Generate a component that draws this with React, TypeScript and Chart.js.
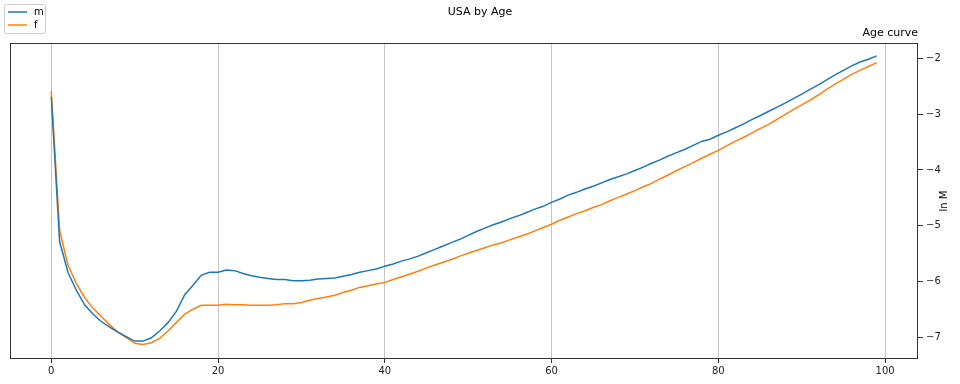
import React, { useEffect, useRef } from "react";
import { Chart, registerables } from "chart.js";

Chart.register(...registerables);

const ages: number[] = Array.from({ length: 100 }, (_, i) => i);

const maleLnM: number[] = [
  -2.69, -5.28, -5.83, -6.15, -6.41, -6.575, -6.71, -6.81, -6.9, -6.98,
  -7.06, -7.06, -7.0, -6.88, -6.73, -6.53, -6.23, -6.06, -5.88, -5.83,
  -5.83, -5.79, -5.8, -5.85, -5.89, -5.92, -5.94, -5.96, -5.96, -5.98,
  -5.98, -5.97, -5.95, -5.94, -5.93, -5.9, -5.87, -5.83, -5.8, -5.77,
  -5.72, -5.68, -5.63, -5.59, -5.54, -5.48, -5.42, -5.36, -5.3, -5.24,
  -5.17, -5.1, -5.04, -4.98, -4.93, -4.87, -4.82, -4.76, -4.7, -4.65,
  -4.58, -4.52, -4.45, -4.4, -4.34, -4.29, -4.23, -4.17, -4.12, -4.07,
  -4.01, -3.95, -3.88, -3.82, -3.75, -3.69, -3.63, -3.56, -3.49, -3.45,
  -3.38, -3.32, -3.25, -3.18, -3.1, -3.03, -2.955, -2.88, -2.805, -2.725,
  -2.645, -2.56, -2.48, -2.39, -2.3, -2.22, -2.14, -2.07, -2.02, -1.96,
];

const femaleLnM: number[] = [
  -2.59, -5.08, -5.7, -6.03, -6.28, -6.47, -6.62, -6.77, -6.9, -7.0,
  -7.1, -7.12, -7.09, -7.01, -6.88, -6.73, -6.575, -6.49, -6.42, -6.42,
  -6.42, -6.4, -6.41, -6.41, -6.42, -6.42, -6.42, -6.41, -6.39, -6.39,
  -6.37, -6.33, -6.3, -6.27, -6.24, -6.19, -6.15, -6.1, -6.07, -6.04,
  -6.01, -5.96, -5.91, -5.86, -5.81, -5.75, -5.7, -5.65, -5.6, -5.54,
  -5.49, -5.44, -5.39, -5.34, -5.3, -5.25, -5.2, -5.15, -5.09, -5.03,
  -4.97, -4.9, -4.84, -4.78, -4.73, -4.67, -4.62, -4.55, -4.49, -4.43,
  -4.37, -4.3, -4.24, -4.16, -4.09, -4.01, -3.94, -3.87, -3.79, -3.72,
  -3.65, -3.57, -3.49, -3.42, -3.34, -3.26, -3.19, -3.1, -3.01, -2.92,
  -2.835, -2.75, -2.66, -2.56, -2.465, -2.38, -2.29, -2.22, -2.15, -2.08,
];

const xTicks: number[] = [0, 20, 40, 60, 80, 100];
const yTicks: number[] = [-7, -6, -5, -4, -3, -2];

const seriesNames: string[] = ["m", "f"];
const seriesColors: string[] = ["#1f77b4", "#ff7f0e"];

const chartTitle = "USA by Age";
const axesTitle = "Age curve";
const yAxisTitle = "ln M";

const FONT = "'DejaVu Sans', sans-serif";

const decorPlugin = {
  id: "decor",
  afterDraw(chart: any) {
    const { ctx, chartArea } = chart;
    const { left, right, top, bottom } = chartArea;
    ctx.save();
    // frame
    ctx.strokeStyle = "#333";
    ctx.lineWidth = 1;
    ctx.strokeRect(left + 0.5, top + 0.5, right - left - 1, bottom - top - 1);

    ctx.fillStyle = "#000";
    ctx.textBaseline = "middle";
    // suptitle
    ctx.font = `11px ${FONT}`;
    ctx.textAlign = "center";
    ctx.fillText(chartTitle, 480, 12);
    // axes title
    ctx.font = `11px ${FONT}`;
    ctx.textAlign = "right";
    ctx.fillText(axesTitle, right, 33);
    // y title rotated
    ctx.save();
    ctx.translate(944, (top + bottom) / 2);
    ctx.rotate(-Math.PI / 2);
    ctx.textAlign = "center";
    ctx.font = `10px ${FONT}`;
    ctx.fillText(yAxisTitle, 0, 0);
    ctx.restore();

    // legend box
    const bx = 4.5, by = 4.5, bw = 41, bh = 29;
    ctx.beginPath();
    const r = 2;
    ctx.moveTo(bx + r, by);
    ctx.lineTo(bx + bw - r, by);
    ctx.quadraticCurveTo(bx + bw, by, bx + bw, by + r);
    ctx.lineTo(bx + bw, by + bh - r);
    ctx.quadraticCurveTo(bx + bw, by + bh, bx + bw - r, by + bh);
    ctx.lineTo(bx + r, by + bh);
    ctx.quadraticCurveTo(bx, by + bh, bx, by + bh - r);
    ctx.lineTo(bx, by + r);
    ctx.quadraticCurveTo(bx, by, bx + r, by);
    ctx.closePath();
    ctx.fillStyle = "rgba(255,255,255,0.8)";
    ctx.fill();
    ctx.strokeStyle = "#cccccc";
    ctx.lineWidth = 1;
    ctx.stroke();

    ctx.font = `10px ${FONT}`;
    ctx.textAlign = "left";
    seriesNames.forEach((name, i) => {
      const y = 12 + i * 13;
      ctx.strokeStyle = seriesColors[i];
      ctx.lineWidth = 1.5;
      ctx.beginPath();
      ctx.moveTo(8, y);
      ctx.lineTo(27, y);
      ctx.stroke();
      ctx.fillStyle = "#000";
      ctx.fillText(name, 34, y);
    });
    ctx.restore();
  },
};

export default function App() {
  const canvasRef = useRef<HTMLCanvasElement | null>(null);

  useEffect(() => {
    document.body.style.margin = "0";
    const canvas = canvasRef.current;
    if (!canvas) return;
    const series = [maleLnM, femaleLnM];
    const chart = new Chart(canvas, {
      type: "line",
      data: {
        datasets: series.map((vals, i) => ({
          label: seriesNames[i],
          data: ages.map((a, j) => ({ x: a, y: vals[j] })),
          borderColor: seriesColors[i],
          backgroundColor: seriesColors[i],
          borderWidth: 1.5,
          pointRadius: 0,
          tension: 0,
          fill: false,
        })),
      },
      options: {
        animation: false,
        responsive: false,
        maintainAspectRatio: false,
        layout: { padding: { left: 10, top: 43, right: 0, bottom: 0 } },
        plugins: {
          legend: { display: false },
          title: { display: false },
          tooltip: { enabled: false },
        },
        scales: {
          x: {
            type: "linear",
            min: -4.95,
            max: 103.95,
            afterBuildTicks: (scale: any) => {
              scale.ticks = xTicks.map((v) => ({ value: v }));
            },
            afterFit: (scale: any) => {
              scale.height = 25;
            },
            grid: {
              display: true,
              drawOnChartArea: true,
              color: "#c4c4c4",
              lineWidth: 1,
              tickLength: 4,
              tickColor: "#333",
            },
            border: { display: false },
            ticks: {
              color: "#222",
              font: { family: FONT, size: 10 },
              padding: 2,
              maxRotation: 0,
              callback: (v: any) => String(v),
            },
          },
          y: {
            type: "linear",
            position: "right",
            min: -7.38,
            max: -1.73,
            afterBuildTicks: (scale: any) => {
              scale.ticks = yTicks.map((v) => ({ value: v }));
            },
            afterFit: (scale: any) => {
              scale.width = 42;
            },
            grid: {
              display: true,
              drawOnChartArea: false,
              tickLength: 5,
              tickColor: "#333",
            },
            border: { display: false },
            ticks: {
              color: "#222",
              font: { family: FONT, size: 10 },
              padding: 3,
              callback: (v: any) =>
                (v < 0 ? "\u2212" : "") + String(Math.abs(v)),
            },
          },
        },
      },
      plugins: [decorPlugin],
    });
    return () => chart.destroy();
  }, []);

  return (
    <div style={{ position: "absolute", left: 0, top: 0, width: 960, height: 384, background: "#fff" }}>
      <canvas ref={canvasRef} width={960} height={384} style={{ width: 960, height: 384 }} />
    </div>
  );
}
